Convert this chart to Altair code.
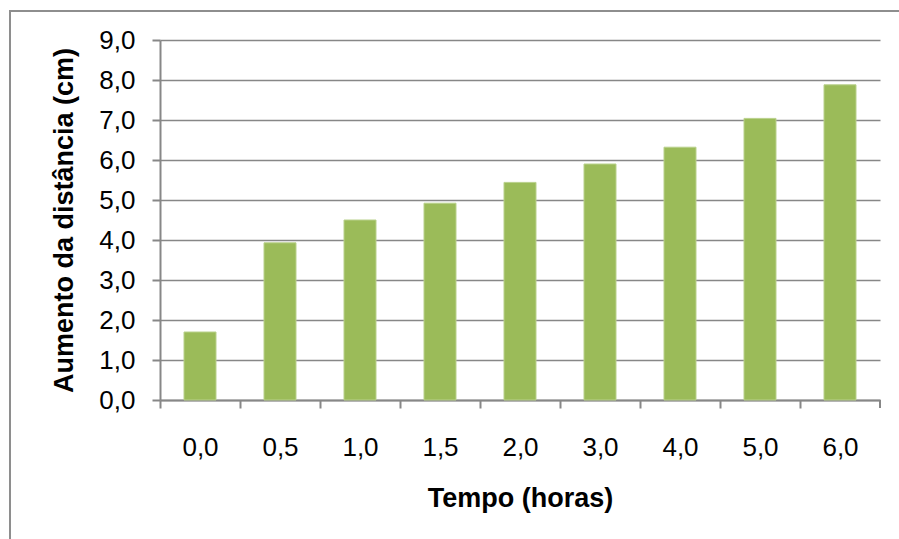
import altair as alt
import pandas as pd

# Hours elapsed (category labels) and the measured distance increase in cm
tempo = ["0,0", "0,5", "1,0", "1,5", "2,0", "3,0", "4,0", "5,0", "6,0"]
aumento = [1.70, 3.93, 4.50, 4.92, 5.44, 5.90, 6.32, 7.04, 7.88]

df = pd.DataFrame({"tempo": tempo, "aumento": aumento})

GRAY = "#878787"
GREEN = "#9BBB59"
FONT = "Liberation Sans"
W, H = 720, 360

bars = alt.Chart(df).mark_bar(
    color=GREEN, stroke="#B9D18C", strokeWidth=1
).encode(
    x=alt.X(
        "tempo:N",
        sort=tempo,
        title="Tempo (horas)",
        scale=alt.Scale(paddingInner=0.6, paddingOuter=0.3),
        axis=alt.Axis(
            labelAngle=0,
            tickOffset=-W / len(tempo) / 2,
            labelOffset=W / len(tempo) / 2,
            tickSize=8,
            labelPadding=26,
            titlePadding=25,
            grid=False,
        ),
    ),
    y=alt.Y(
        "aumento:Q",
        title="Aumento da distância (cm)",
        scale=alt.Scale(domain=[0, 9], nice=False),
        axis=alt.Axis(
            values=list(range(10)),
            labelExpr="replace(format(datum.value, '.1f'), '.', ',')",
            tickSize=8,
            labelPadding=17,
            titlePadding=20,
            grid=True,
        ),
    ),
)

# closing tick at the right end of the category axis
end_tick = alt.Chart(df).mark_rule(color=GRAY, strokeWidth=2).encode(
    x=alt.value(W), y=alt.value(H), y2=alt.value(H + 8)
)

# outer frame around the whole chart
frame = alt.Chart(df).mark_rect(
    fill=None, stroke="#8E8E8E", strokeWidth=2, clip=False
).encode(
    x=alt.value(-150), x2=alt.value(W + 40), y=alt.value(-29), y2=alt.value(H + 160)
)

chart = alt.layer(frame, bars, end_tick).properties(
    width=W,
    height=H,
    padding={"left": 160, "top": 40, "right": 19, "bottom": 139},
    autosize=alt.AutoSizeParams(type="none"),
    background="white",
).configure_view(
    stroke=None
).configure_axis(
    domainColor=GRAY,
    domainWidth=2,
    tickColor=GRAY,
    tickWidth=2,
    gridColor=GRAY,
    gridWidth=1.6,
    labelFont=FONT,
    labelFontSize=26,
    labelColor="#000000",
    titleFont=FONT,
    titleFontSize=27,
    titleFontWeight="bold",
    titleColor="#000000",
)

chart.save("out.html", embed_options={"renderer": "svg", "actions": False})
